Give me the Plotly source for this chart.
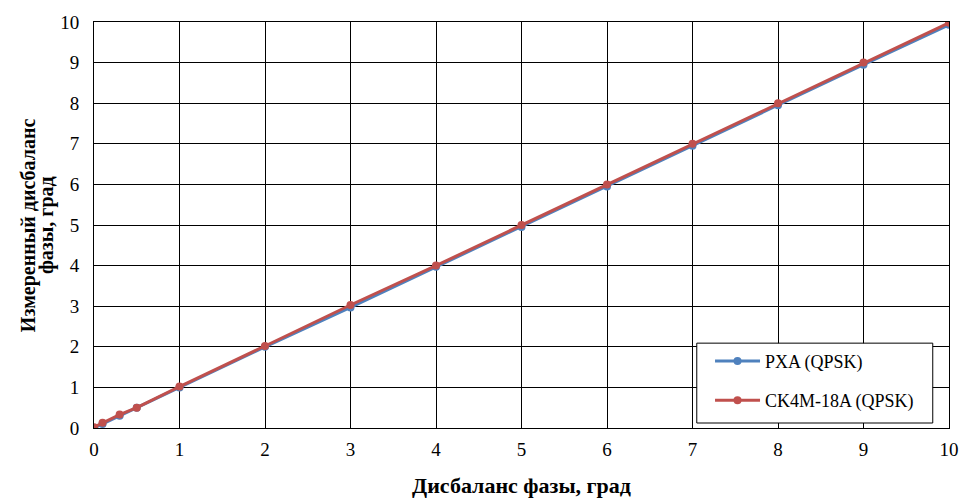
import plotly.graph_objects as go

x_vals = [0, 0.1, 0.3, 0.5, 1, 2, 3, 4, 5, 6, 7, 8, 9, 10]
pxa = [0, 0.1, 0.3, 0.5, 1.0, 2.0, 2.97, 3.97, 4.95, 5.95, 6.95, 7.95, 8.95, 9.93]
ck4m = [0.02, 0.13, 0.33, 0.5, 1.02, 2.02, 3.03, 4.0, 5.0, 6.0, 7.0, 8.0, 9.0, 9.98]
series_names = ["PXA (QPSK)", "CK4M-18A (QPSK)"]
x_title = "Дисбаланс фазы, град"
y_title_lines = ["Измеренный дисбаланс", "фазы, град"]

font_family = "Times New Roman"

fig = go.Figure()
fig.add_trace(go.Scatter(x=x_vals, y=pxa, mode="lines+markers", name=series_names[0],
                         legendgroup="a",
                         line=dict(color="#4F81BD", width=3),
                         marker=dict(color="#4F81BD", size=8)))
fig.add_trace(go.Scatter(x=x_vals, y=ck4m, mode="lines+markers", name=series_names[1],
                         legendgroup="b",
                         line=dict(color="#C0504D", width=3),
                         marker=dict(color="#C0504D", size=8)))

tick_font = dict(family=font_family, size=19, color="black")

# legend frame
fig.add_shape(type="rect", xref="paper", yref="paper",
              x0=0.705, x1=0.981, y0=0.0123, y1=0.209,
              line=dict(color="black", width=1), fillcolor="white", layer="above")

for i, txt in enumerate(y_title_lines):
    fig.add_annotation(text="<b>" + txt + "</b>", xref="paper", yref="paper",
                       x=[-0.077, -0.056][i], y=0.5, textangle=-90, showarrow=False,
                       xanchor="center", yanchor="middle",
                       font=dict(family=font_family, size=20, color="black"))

fig.update_layout(
    width=976, height=502,
    margin=dict(l=94, r=27, t=22, b=74, autoexpand=False),
    paper_bgcolor="white", plot_bgcolor="white",
    font=dict(family=font_family, size=18, color="black"),
    showlegend=True,
    legend=dict(x=0.7205, y=0.21, xanchor="left", yanchor="top",
                borderwidth=0, bgcolor="rgba(0,0,0,0)",
                font=dict(family=font_family, size=18), tracegroupgap=13,
                itemwidth=45),
    xaxis=dict(range=[0, 10], dtick=1, showgrid=True, gridcolor="black", gridwidth=1,
               showline=True, linecolor="black", linewidth=1, mirror=True,
               zeroline=False, ticks="", tickfont=tick_font, automargin=False,
               ticklabelstandoff=4,
               title=dict(text="<b>" + x_title + "</b>",
                          font=dict(family=font_family, size=22), standoff=18)),
    yaxis=dict(range=[0, 10], dtick=1, showgrid=True, gridcolor="black", gridwidth=1,
               showline=True, linecolor="black", linewidth=1, mirror=True,
               zeroline=False, ticks="", tickfont=tick_font, automargin=False,
               ticklabelstandoff=10),
)

fig.write_html("out.html", config={"displayModeBar": False},
               post_script="document.body.style.margin='0';document.body.style.padding='0';")
